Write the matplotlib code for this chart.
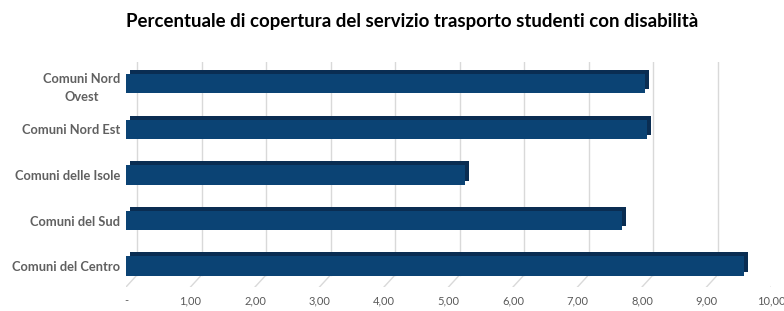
import matplotlib
matplotlib.use("Agg")
import matplotlib.pyplot as plt
from matplotlib.transforms import offset_copy

# dati
categorie = ["Comuni del Centro", "Comuni del Sud", "Comuni delle Isole",
             "Comuni Nord Est", "Comuni Nord\nOvest"]
valori = [9.58, 7.69, 5.25, 8.08, 8.05]
tick_x = [0, 1, 2, 3, 4, 5, 6, 7, 8, 9, 10]
titolo = "Percentuale di copertura del servizio trasporto studenti con disabilità"

plt.rcParams['font.family'] = ['Lato', 'DejaVu Sans']

fig = plt.figure(figsize=(7.84, 3.11), dpi=100)
ax = fig.add_axes([126 / 784, 1 - 287 / 311, 645 / 784, 225 / 311])
ax.set_xlim(0, 10)
ax.set_ylim(-0.46, 4.48)

# griglia sul "muro" posteriore + diagonali del pavimento
dx = 11 / 645
dy = 12 / 225
for v in tick_x:
    xb = v / 10 + dx
    ax.plot([xb, xb], [dy, 1], transform=ax.transAxes, color="#d9d9d9", lw=1, zorder=0)
    ax.plot([v / 10, xb], [0, dy], transform=ax.transAxes, color="#d9d9d9", lw=1, zorder=0)

pos = list(range(len(categorie)))
# profondità delle barre (faccia superiore/laterale)
prof = offset_copy(ax.transData, fig=fig, x=4, y=4, units="dots")
ax.barh(pos, valori, height=0.42, color="#0a2d52", transform=prof, zorder=2)
ax.barh(pos, valori, height=0.42, color="#0b4374", zorder=3)

ax.set_yticks(pos)
ax.set_yticklabels(categorie, fontsize=9.3, fontweight="bold", color="#606060",
                   multialignment="center", linespacing=1.65)
ax.set_xticks(tick_x)
ax.set_xticklabels(["-" if v == 0 else f"{v:.2f}".replace(".", ",") for v in tick_x],
                   fontsize=8, color="#595959")
ax.tick_params(axis="both", length=0)
ax.tick_params(axis="y", pad=4)
ax.tick_params(axis="x", pad=6)
for s in ax.spines.values():
    s.set_visible(False)

fig.text(412 / 784, 1 - 22 / 311, titolo, ha="center", va="center",
         fontsize=13.4, fontweight="bold", color="#000000")

fig.savefig("out.png", dpi=100, facecolor="white")
